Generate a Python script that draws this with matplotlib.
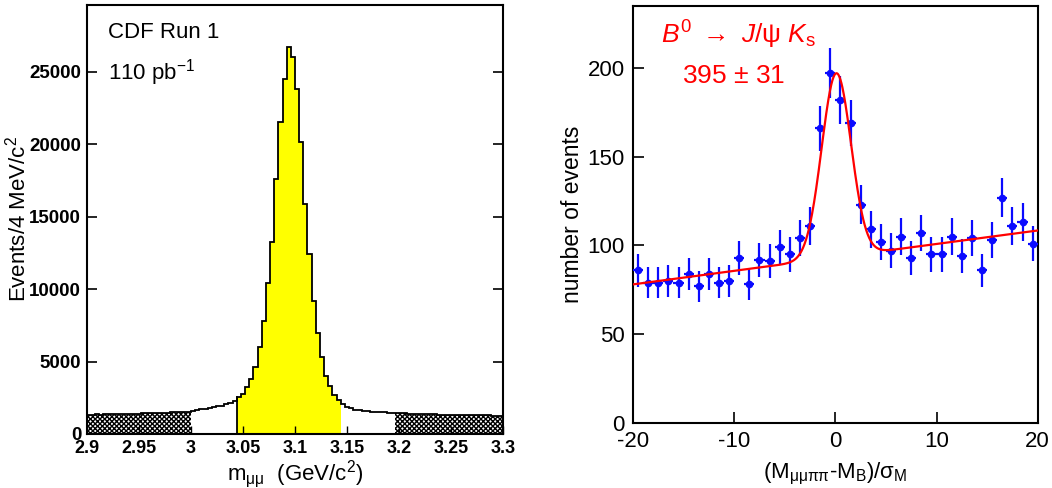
import numpy as np
import matplotlib
matplotlib.use("Agg")
import matplotlib.pyplot as plt

plt.rcParams['font.family'] = ['Liberation Sans', 'DejaVu Sans']
plt.rcParams['mathtext.fontset'] = 'custom'
plt.rcParams['mathtext.rm'] = 'Liberation Sans'
plt.rcParams['mathtext.it'] = 'Liberation Sans:italic'
plt.rcParams['mathtext.bf'] = 'Liberation Sans:bold'
plt.rcParams['hatch.linewidth'] = 1.0
plt.rcParams['axes.unicode_minus'] = False

# ---------------- Left panel data: dimuon mass histogram (4 MeV bins) ----------------
mass_lo = 2.9
mass_bin_width = 0.004
# counts per bin, 2.900 - 3.300 GeV/c^2 (100 bins)
counts_left_sideband = [1330, 1340, 1350, 1345, 1360, 1370, 1365, 1380, 1395, 1385,
                        1400, 1410, 1405, 1420, 1435, 1430, 1450, 1460, 1470, 1480,
                        1490, 1500, 1510, 1525, 1540]                      # bins 0-24
counts_left_gap = [1620, 1660, 1700, 1730, 1790, 1830, 1900, 1960, 2050, 2150, 2290]  # bins 25-35
counts_signal = [2553, 2760, 3220, 3795, 4600, 6003, 7774, 10396, 13248, 17595,
                 21528, 24518, 26680, 26013, 23805, 20148, 15870, 12443, 9154, 6969,
                 5290, 3979, 3289, 2714, 2369]                             # bins 36-60
counts_right_gap = [2070, 1880, 1760, 1680, 1630, 1600, 1570, 1545, 1525, 1510,
                    1495, 1480, 1465]                                      # bins 61-73
counts_right_sideband = [1440, 1420, 1425, 1400, 1395, 1385, 1390, 1370, 1360, 1365,
                         1345, 1340, 1335, 1330, 1320, 1325, 1310, 1300, 1305, 1290,
                         1285, 1280, 1290, 1270, 1265, 1260]               # bins 74-99
left_yticks = [0, 5000, 10000, 15000, 20000, 25000]
left_xticks = [2.9, 2.95, 3.0, 3.05, 3.1, 3.15, 3.2, 3.25, 3.3]
left_xticklabels = ['2.9', '2.95', '3', '3.05', '3.1', '3.15', '3.2', '3.25', '3.3']

# ---------------- Right panel data: B0 -> J/psi Ks normalized mass ----------------
norm_mass = [-19.5, -18.5, -17.5, -16.5, -15.5, -14.5, -13.5, -12.5, -11.5, -10.5,
             -9.5, -8.5, -7.5, -6.5, -5.5, -4.5, -3.5, -2.5, -1.5, -0.5,
             0.5, 1.5, 2.5, 3.5, 4.5, 5.5, 6.5, 7.5, 8.5, 9.5,
             10.5, 11.5, 12.5, 13.5, 14.5, 15.5, 16.5, 17.5, 18.5, 19.5]
events = [86, 79, 79, 80, 79, 84, 77, 84, 79, 80,
          93, 78, 92, 91, 99, 95, 104, 111, 166, 197,
          182, 169, 123, 109, 102, 97, 105, 93, 107, 95,
          95, 105, 94, 104, 86, 103, 127, 111, 113, 101]
# fit: linear background + gaussian signal
fit_bkg_at_zero = 93.2
fit_bkg_slope = 0.76
fit_peak_height = 103.8
fit_mean = 0.1
fit_sigma = 1.45
right_yticks = [0, 50, 100, 150, 200]
right_xticks = [-20, -10, 0, 10, 20]

# ---------------- Figure ----------------
fig = plt.figure(figsize=(10.52, 4.88), dpi=100)
axL = fig.add_axes([86.7 / 1052, (488 - 434) / 488, (503.3 - 86.7) / 1052, (434 - 5) / 488])
axR = fig.add_axes([633 / 1052, (488 - 422.7) / 488, (1037.7 - 633) / 1052, (422.7 - 6) / 488])

counts = np.array(counts_left_sideband + counts_left_gap + counts_signal
                  + counts_right_gap + counts_right_sideband, dtype=float)
nb = len(counts)
edges = mass_lo + mass_bin_width * np.arange(nb + 1)
n1 = len(counts_left_sideband)
n2 = n1 + len(counts_left_gap)
n3 = n2 + len(counts_signal)
n4 = n3 + len(counts_right_gap)

# hatched sidebands
axL.stairs(counts[:n1], edges[:n1 + 1], fill=True, facecolor='white',
           edgecolor='black', hatch='xxxxxxx', linewidth=0)
axL.stairs(counts[n4:], edges[n4:], fill=True, facecolor='white',
           edgecolor='black', hatch='xxxxxxx', linewidth=0)
# yellow signal region
axL.stairs(counts[n2:n3], edges[n2:n3 + 1], fill=True, facecolor='#ffff00',
           edgecolor='none', linewidth=0)
# outline
axL.stairs(counts, edges, color='black', linewidth=1.3)
axL.plot([edges[n2], edges[n2]], [0, counts[n2]], color='black', linewidth=1.3)

axL.set_xlim(2.9, 3.3)
axL.set_ylim(0, 29600)
axL.set_yticks(left_yticks)
axL.set_yticklabels([str(v) for v in left_yticks])
axL.set_xticks(left_xticks)
axL.set_xticklabels(left_xticklabels)
axL.tick_params(axis='y', which='both', direction='in', left=True, right=True,
                length=7, width=1.2, labelsize=13.5, pad=4)
axL.tick_params(axis='x', which='both', direction='in', bottom=True, top=False,
                length=6, width=1.0, labelsize=13, pad=4)
for lab in axL.get_xticklabels() + axL.get_yticklabels():
    lab.set_fontweight('bold')
for sp in axL.spines.values():
    sp.set_linewidth(1.5)
axL.set_ylabel('Events/4 MeV/c$^2$', fontsize=16)
axL.yaxis.set_label_coords(-0.136, 0.5)
axL.set_xlabel(r'm$_{\rm \mu\mu}$  (GeV/c$^2$)', fontsize=16)
axL.xaxis.set_label_coords(0.5, -0.055)
axL.text(0.052, 0.935, 'CDF Run 1', transform=axL.transAxes, fontsize=16,
         ha='left', va='center')
axL.text(0.052, 0.843, '110 pb$^{-1}$', transform=axL.transAxes, fontsize=16,
         ha='left', va='center')

# right panel
x = np.array(norm_mass)
y = np.array(events, dtype=float)
axR.errorbar(x, y, xerr=0.5, yerr=np.sqrt(y), fmt='o', color='#0a0aff',
             markersize=4.5, elinewidth=1.6, capsize=0, zorder=3)
xf = np.linspace(-20, 20, 801)
yf = fit_bkg_at_zero + fit_bkg_slope * xf + fit_peak_height * np.exp(
    -0.5 * ((xf - fit_mean) / fit_sigma) ** 2)
axR.plot(xf, yf, color='#ff0000', linewidth=1.6, zorder=4)

axR.set_xlim(-20, 20)
axR.set_ylim(0, 235)
axR.set_xticks(right_xticks)
axR.set_yticks(right_yticks)
axR.tick_params(axis='y', direction='in', left=True, right=False, length=8,
                width=1.2, labelsize=16, pad=6)
axR.tick_params(axis='x', direction='in', bottom=True, top=False, length=8,
                width=1.2, labelsize=16, pad=6)
for sp in axR.spines.values():
    sp.set_linewidth(1.5)
axR.set_ylabel('number of events', fontsize=16.5)
axR.yaxis.set_label_coords(-0.121, 0.5)
axR.set_xlabel(r'(M$_{\rm \mu\mu\pi\pi}$-M$_{\rm B}$)/$\rm \sigma_{\rm M}$', fontsize=16)
axR.xaxis.set_label_coords(0.5, -0.092)
axR.text(0.07, 0.93, r'$B^{\rm 0}$ $\rightarrow$ $J/\mathrm{\psi}$ $K_{\rm s}$',
         transform=axR.transAxes, fontsize=19, color='#ff0000', ha='left', va='center')
axR.text(0.12, 0.833, r'395 $\pm$ 31', transform=axR.transAxes, fontsize=19,
         color='#ff0000', ha='left', va='center')

fig.savefig('out.png', dpi=100)
